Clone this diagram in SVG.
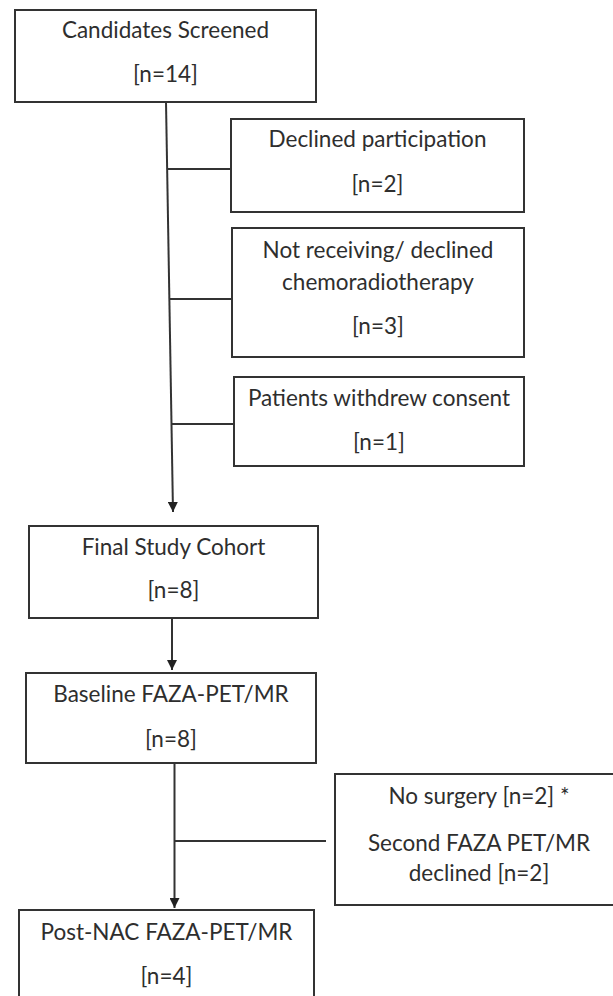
<svg xmlns="http://www.w3.org/2000/svg" width="613" height="996" viewBox="0 0 613 996">
<style>
.box{fill:#fff;stroke:#333;stroke-width:2}
.t{font-family:Lato,"Liberation Sans",sans-serif;font-size:22.5px;fill:#2e2e2e;text-anchor:middle}
.c{stroke:#333;stroke-width:2;fill:none}
</style>
<defs>
<marker id="ah" viewBox="0 0 10 10" refX="10" refY="5" markerWidth="5" markerHeight="5" orient="auto" markerUnits="strokeWidth">
<path d="M0,0 L10,5 L0,10 z" fill="#222"/>
</marker>
</defs>
<rect width="613" height="996" fill="#fff"/>
<g id="connectors">
<path class="c" d="M166,102 L173,512" marker-end="url(#ah)"/>
<path class="c" d="M167,169 L231,169"/>
<path class="c" d="M169,299 L232,299"/>
<path class="c" d="M171,424 L234,424"/>
<path class="c" d="M172,618 L172,670" marker-end="url(#ah)"/>
<path class="c" d="M174.5,763 L174.5,908" marker-end="url(#ah)"/>
<path class="c" d="M174.5,841 L326,841"/>
</g>
<g id="n1"><rect class="box" x="15" y="10" width="301" height="92"/>
<text class="t" x="165.5" y="38">Candidates Screened</text>
<text class="t" x="165.5" y="82">[n=14]</text></g>
<g id="n2"><rect class="box" x="231" y="119" width="293" height="93"/>
<text class="t" x="377.5" y="147">Declined participation</text>
<text class="t" x="377.5" y="192">[n=2]</text></g>
<g id="n3"><rect class="box" x="232" y="228" width="292" height="129"/>
<text class="t" x="378" y="258">Not receiving/ declined</text>
<text class="t" x="378" y="290">chemoradiotherapy</text>
<text class="t" x="378" y="334">[n=3]</text></g>
<g id="n4"><rect class="box" x="234" y="377" width="290" height="89"/>
<text class="t" x="379" y="406">Patients withdrew consent</text>
<text class="t" x="379" y="450">[n=1]</text></g>
<g id="n5"><rect class="box" x="29" y="526" width="289" height="92"/>
<text class="t" x="173.5" y="555">Final Study Cohort</text>
<text class="t" x="173.5" y="598">[n=8]</text></g>
<g id="n6"><rect class="box" x="26" y="673" width="290" height="90"/>
<text class="t" x="171" y="702">Baseline FAZA-PET/MR</text>
<text class="t" x="171" y="747">[n=8]</text></g>
<g id="n7"><rect class="box" x="19" y="910" width="295" height="100"/>
<text class="t" x="166.5" y="940">Post-NAC FAZA-PET/MR</text>
<text class="t" x="166.5" y="984">[n=4]</text></g>
<g id="n8"><rect class="box" x="335" y="774" width="290" height="131"/>
<text class="t" x="479" y="804">No surgery [n=2] *</text>
<text class="t" x="479" y="851">Second FAZA PET/MR</text>
<text class="t" x="479" y="881">declined [n=2]</text></g>
</svg>
